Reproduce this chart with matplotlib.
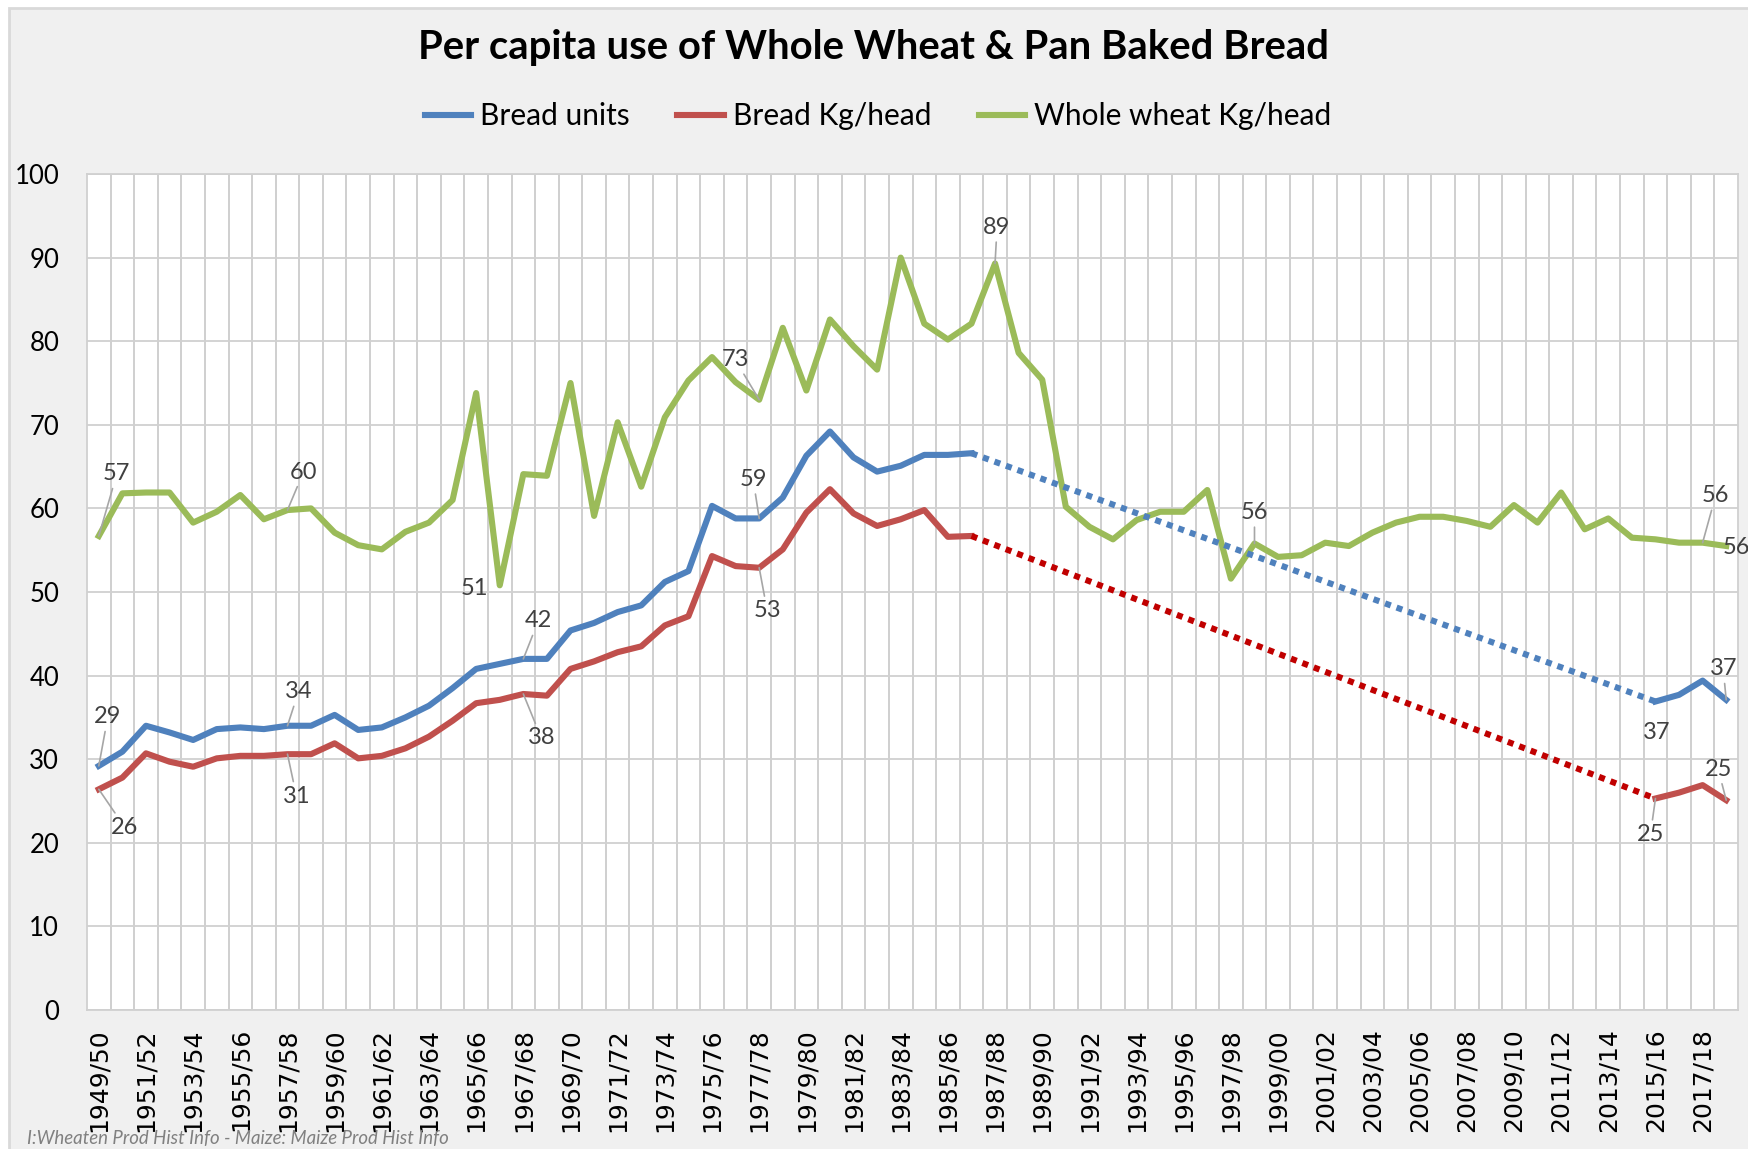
import numpy as np
import matplotlib.pyplot as plt
from matplotlib.patches import Rectangle

nan = np.nan

# categorias (anos agrícolas)
seasons = [f"{y}/{(y + 1) % 100:02d}" for y in range(1949, 2019)]

# valores
bread_units = [29.2, 30.9, 34.0, 33.2, 32.3, 33.6, 33.8, 33.6, 34.0, 34.0,
               35.3, 33.5, 33.8, 35.0, 36.4, 38.5, 40.8, 41.4, 42.0, 42.0,
               45.4, 46.3, 47.6, 48.4, 51.2, 52.5, 60.3, 58.8, 58.8, 61.3,
               66.3, 69.2, 66.1, 64.4, 65.1, 66.4, 66.4, 66.6] + [nan] * 28 + \
              [36.9, 37.7, 39.4, 37.1]

bread_kg = [26.4, 27.8, 30.7, 29.7, 29.1, 30.1, 30.4, 30.4, 30.6, 30.6,
            31.9, 30.1, 30.4, 31.3, 32.7, 34.6, 36.7, 37.1, 37.8, 37.6,
            40.8, 41.7, 42.8, 43.5, 46.0, 47.1, 54.3, 53.1, 52.9, 55.1,
            59.5, 62.3, 59.4, 57.9, 58.7, 59.8, 56.6, 56.7] + [nan] * 28 + \
           [25.3, 26.0, 26.9, 25.1]

whole_wheat = [56.7, 61.8, 61.9, 61.9, 58.3, 59.6, 61.6, 58.7, 59.8, 60.0,
               57.1, 55.6, 55.1, 57.2, 58.3, 61.0, 73.8, 50.8, 64.1, 63.9,
               75.0, 59.1, 70.3, 62.6, 70.9, 75.3, 78.1, 75.1, 73.0, 81.6,
               74.1, 82.6, 79.4, 76.6, 90.0, 82.1, 80.2, 82.1, 89.3, 78.6,
               75.4, 60.2, 57.8, 56.3, 58.6, 59.6, 59.6, 62.2, 51.6, 55.8,
               54.2, 54.4, 55.9, 55.5, 57.1, 58.3, 59.0, 59.0, 58.5, 57.8,
               60.4, 58.3, 61.9, 57.5, 58.8, 56.5, 56.3, 55.9, 55.9, 55.5]

# trechos pontilhados (ligação entre 1986/87 e 2015/16)
gap_idx = [37, 66]
gap_units = [66.6, 36.9]
gap_kg = [56.7, 25.3]

BLUE, RED, GREEN, DARKRED = '#4F81BD', '#C0504D', '#9BBB59', '#C00000'

# rótulos de dados: (série, índice, dx, dy, linha guia)
rotulos = [
    ('wheat', 0, 18, 62, True), ('wheat', 8, 16, 38, True), ('wheat', 17, -25, -3, False),
    ('wheat', 28, -24, 40, True), ('wheat', 38, 2, 36, True), ('wheat', 49, 0, 31, True),
    ('wheat', 68, 13, 47, True), ('wheat', 69, 10, -1, False),
    ('units', 0, 9, 49, True), ('units', 8, 11, 34, True), ('units', 18, 15, 38, True),
    ('units', 28, -6, 39, True), ('units', 66, 1, -31, False), ('units', 69, -3, 31, True),
    ('kg', 0, 26, -38, True), ('kg', 8, 9, -42, True), ('kg', 18, 18, -44, True),
    ('kg', 28, 8, -43, True), ('kg', 66, -5, -36, True), ('kg', 69, -8, 31, True),
]
series = {'wheat': whole_wheat, 'units': bread_units, 'kg': bread_kg}

W, H = 1748, 1149
fig = plt.figure(figsize=(W / 100, H / 100), dpi=100, facecolor='white')

# fundo cinza da área do gráfico
fig.patches.append(Rectangle((9 / W, -0.02), 1.05, 1 - 8 / H + 0.02, transform=fig.transFigure,
                             facecolor='#F0F0F0', edgecolor='#D9D9D9', lw=2, zorder=-10))

ax = fig.add_axes([87 / W, 1 - 1010 / H, (1738 - 87) / W, (1010 - 174) / H])
ax.set_zorder(1)
ax.set_facecolor('white')

LW = 4.4
x = np.arange(len(seasons))
l1, = ax.plot(x, bread_units, color=BLUE, lw=LW, label='Bread units', zorder=3)
l2, = ax.plot(x, bread_kg, color=RED, lw=LW, label='Bread Kg/head', zorder=3)
l3, = ax.plot(x, whole_wheat, color=GREEN, lw=LW, label='Whole wheat Kg/head', zorder=3)
ax.plot(gap_idx, gap_units, color=BLUE, lw=LW, linestyle=(0, (1, 1)), zorder=3)
ax.plot(gap_idx, gap_kg, color=DARKRED, lw=LW, linestyle=(0, (1, 1)), zorder=3)

for nome, i, dx, dy, guia in rotulos:
    v = series[nome][i]
    props = dict(arrowstyle='-', color='#A6A6A6', lw=1.2, shrinkA=1, shrinkB=0) if guia else None
    ax.annotate(f"{v:.0f}", xy=(i, v), xytext=(dx, dy), textcoords='offset pixels',
                ha='center', va='center', fontsize=17, family='Lato', color='#404040',
                arrowprops=props, annotation_clip=False, zorder=4)

ax.set_xlim(-0.5, len(seasons) - 0.5)
ax.set_ylim(0, 100)
ax.set_yticks(range(0, 101, 10))
ax.set_yticklabels([str(v) for v in range(0, 101, 10)], fontsize=18.5, family='Lato')
ax.set_xticks(x[::2])
ax.set_xticklabels(seasons[::2], rotation=90, fontsize=18, family='DejaVu Sans')
ax.set_xticks(np.arange(0.5, len(seasons) - 1, 1), minor=True)
ax.tick_params(axis='both', which='both', length=0)
ax.tick_params(axis='x', pad=13)
ax.tick_params(axis='y', pad=20)
ax.grid(True, which='major', axis='y', color='#D0D0D0', lw=1.3)
ax.grid(True, which='minor', axis='x', color='#CCCCCC', lw=1.3)
ax.set_axisbelow(True)
for s in ax.spines.values():
    s.set_color('#D0D0D0')
    s.set_linewidth(1.3)

fig.text(874 / W, 1 - 48 / H, 'Per capita use of Whole Wheat & Pan Baked Bread',
         ha='center', va='center', fontsize=28.8, fontweight='bold', family='Lato')
fig.legend(handles=[l1, l2, l3], loc='center', bbox_to_anchor=(878 / W, 1 - 116 / H),
           ncol=3, frameon=False, prop={'family': 'Lato', 'size': 21.5},
           handlelength=1.55, handletextpad=0.3, columnspacing=1.6)
fig.text(27 / W, 1 - 1139 / H, 'I:Wheaten Prod Hist Info - Maize: Maize Prod Hist Info',
         ha='left', va='center', fontsize=13.4, style='italic', family='Lato', color='#808080')

fig.savefig('out.png', dpi=100, facecolor='white')
